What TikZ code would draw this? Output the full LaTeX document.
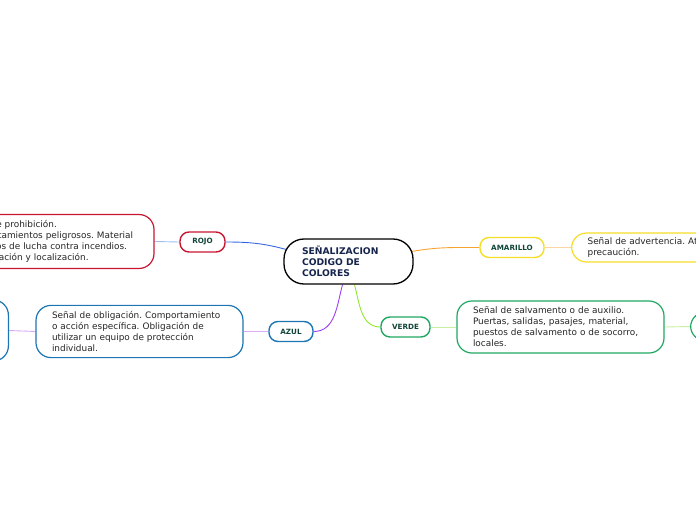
\documentclass[tikz,border=0pt]{standalone}
\usepackage{fontspec}
\setmainfont{DejaVu Sans}
\usepackage{tikz}
\usetikzlibrary{positioning,backgrounds}
\definecolor{rojoLine}{RGB}{200,22,50}
\definecolor{amaLine}{RGB}{246,222,40}
\definecolor{azulLine}{RGB}{28,118,180}
\definecolor{verdeLine}{RGB}{30,168,96}
\definecolor{labelText}{RGB}{16,70,56}
\definecolor{mainText}{RGB}{22,36,76}
\frenchspacing

\begin{document}
\begin{tikzpicture}[x=1pt, y=1pt,
    topic/.style={draw=black, line width=1.3pt, fill=white, rounded corners=20pt,
      minimum width=129pt, minimum height=45pt, text width=93pt, align=left,
      font=\fontsize{9.2}{11}\selectfont\bfseries, text=mainText},
    tag/.style={draw, line width=1.4pt, fill=white, rounded corners=9pt,
      minimum height=20pt, inner xsep=4pt,
      font=\fontsize{7.2}{8}\selectfont\bfseries, text=labelText},
    note/.style={draw, line width=1.2pt, fill=white, rounded corners=15pt,
      inner xsep=16pt, inner ysep=6pt, align=left, text=black!85,
      font=\fontsize{8.9}{11}\selectfont},
    link/.style={line width=0.9pt}
  ]
  \useasboundingbox (0,0) rectangle (696,520);
  \clip (0,0) rectangle (696,520);

  % central topic
  \node[topic] (main) at (348.5,258.5) {SEÑALIZACION\\CODIGO DE\\COLORES};

  % ROJO
  \node[tag, draw=rojoLine, minimum width=45pt] (rojo) at (202.5,278) {ROJO};
  \node[note, draw=rojoLine, text width=175pt, minimum height=51pt] (rojotxt) at (50.5,278.5)
    {Señal de prohibición.\\Comportamientos peligrosos. Material\\y equipos de lucha contra incendios.\\Identificación y localización.};

  % AMARILLO
  \node[tag, draw=amaLine, minimum width=64pt] (amarillo) at (512,272.5) {AMARILLO};
  \node[note, draw=amaLine, text width=160pt, minimum height=29pt, inner ysep=3pt, anchor=west] (amatxt) at (571,272.5)
    {Señal de advertencia. Atención,\\precaución.};

  % AZUL
  \node[tag, draw=azulLine, minimum width=44pt] (azul) at (291,188.5) {AZUL};
  \node[note, draw=azulLine, text width=175pt, minimum height=51pt] (azultxt) at (139.5,188.5)
    {Señal de obligación. Comportamiento\\o acción específica. Obligación de\\utilizar un equipo de protección\\individual.};
  \node[note, draw=azulLine, minimum width=160pt, minimum height=61pt, anchor=east] (azulsub) at (9,189.5) {};

  % VERDE
  \node[tag, draw=verdeLine, minimum width=49pt] (verde) at (405.5,193) {VERDE};
  \node[note, draw=verdeLine, text width=175pt, minimum height=50pt] (verdetxt) at (560.5,193)
    {Señal de salvamento o de auxilio.\\Puertas, salidas, pasajes, material,\\puestos de salvamento o de socorro,\\locales.};
  \node[note, draw=verdeLine, minimum width=60pt, minimum height=29pt, anchor=west] (verdesub) at (690,193.5) {};

  % Connectors
  \begin{scope}[on background layer]
    \draw[link, color={rgb,255:red,52;green,104;blue,226}] ([xshift=3pt,yshift=12pt]main.west) to[out=165,in=0] (rojo.east);
    \draw[link, color={rgb,255:red,246;green,164;blue,48}] ([xshift=-2pt,yshift=10pt]main.east) to[out=10,in=180] (amarillo.west);
    \draw[link, color={rgb,255:red,160;green,60;blue,240}] ([xshift=-6pt]main.south) to[out=-105,in=0] (azul.east);
    \draw[link, color={rgb,255:red,144;green,232;blue,48}] ([xshift=6pt]main.south) to[out=-75,in=180] (verde.west);

    \draw[link, color={rgb,255:red,160;green,190;blue,242}] (rojo.west) -- (rojotxt.east);
    \draw[link, color={rgb,255:red,250;green,212;blue,164}] (amarillo.east) -- (amatxt.west);
    \draw[link, color={rgb,255:red,218;green,170;blue,248}] (azul.west) -- (azultxt.east);
    \draw[link, color={rgb,255:red,218;green,170;blue,248}] (azultxt.west) -- (azulsub.east);
    \draw[link, color={rgb,255:red,200;green,240;blue,160}] (verde.east) -- (verdetxt.west);
    \draw[link, color={rgb,255:red,200;green,240;blue,160}] (verdetxt.east) -- (verdesub.west);
  \end{scope}
\end{tikzpicture}
\end{document}
